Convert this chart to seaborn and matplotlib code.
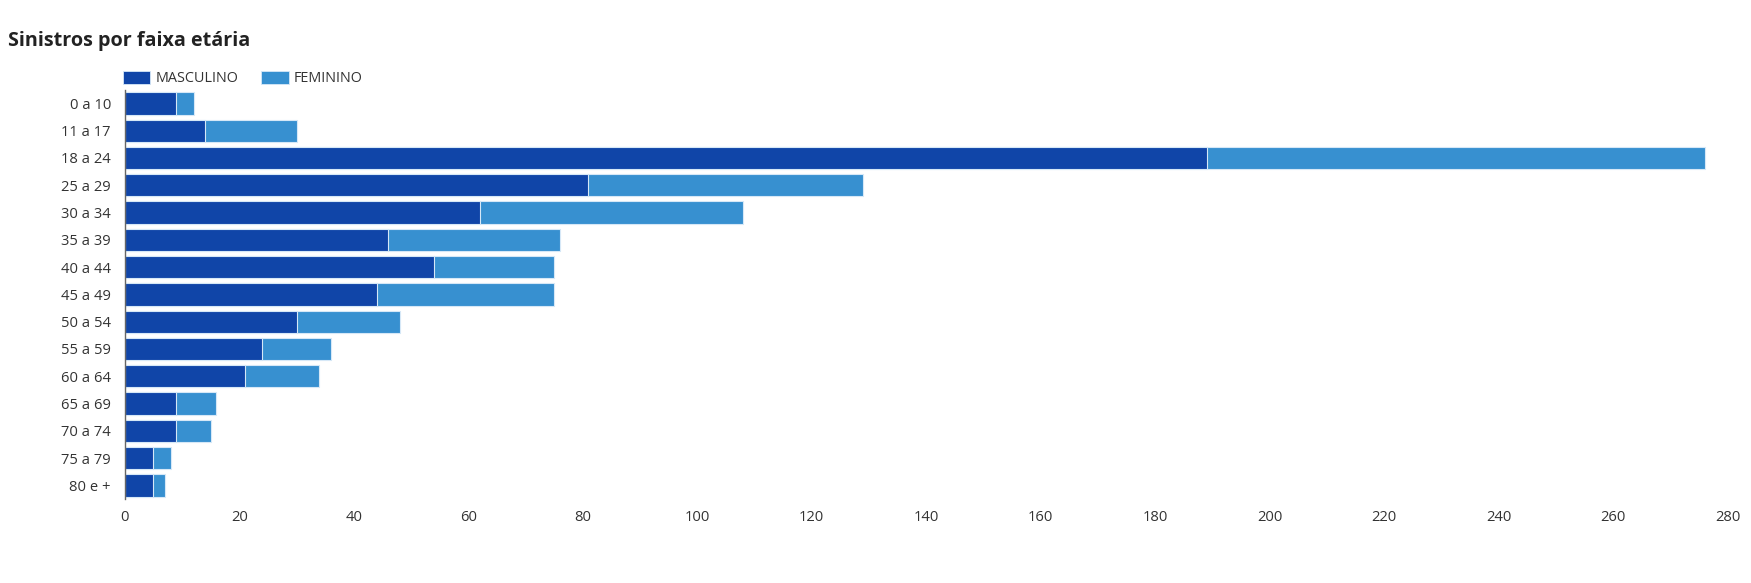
import pandas as pd
import matplotlib
matplotlib.use('Agg')
import matplotlib.pyplot as plt
import seaborn as sns
from matplotlib.patches import Patch

# =========================
# Data
# =========================
faixas = ['0 a 10', '11 a 17', '18 a 24', '25 a 29', '30 a 34', '35 a 39', '40 a 44',
          '45 a 49', '50 a 54', '55 a 59', '60 a 64', '65 a 69', '70 a 74', '75 a 79', '80 e +']
masculino = [9, 14, 189, 81, 62, 46, 54, 44, 30, 24, 21, 9, 9, 5, 5]
feminino = [3, 16, 87, 48, 46, 30, 21, 31, 18, 12, 13, 7, 6, 3, 2]
xticks = list(range(0, 281, 20))

cor_masc = '#1045a8'
cor_fem = '#3790d0'

df = pd.DataFrame({'faixa': faixas, 'masculino': masculino, 'feminino': feminino})
df['total'] = df['masculino'] + df['feminino']

# =========================
# Plot
# =========================
sns.set_style('white')
plt.rcParams['font.family'] = ['Open Sans', 'DejaVu Sans']

fig = plt.figure(figsize=(17.51, 5.83), dpi=100)
ax = fig.add_axes([0.0713, 0.144, 0.9153, 0.702])

sns.barplot(data=df, x='total', y='faixa', orient='h', color=cor_fem, width=0.82,
            edgecolor='#d6e8f7', linewidth=0.8, saturation=1, ax=ax)
sns.barplot(data=df, x='masculino', y='faixa', orient='h', color=cor_masc, width=0.82,
            edgecolor='#d6e8f7', linewidth=0.8, saturation=1, ax=ax)

ax.set_xlim(0, 280)
ax.set_xticks(xticks)
ax.set_xlabel('')
ax.set_ylabel('')
ax.tick_params(axis='both', length=0, labelsize=10.6, colors='#333333')
ax.tick_params(axis='x', pad=8)
ax.tick_params(axis='y', pad=10)

for s in ['top', 'right', 'bottom']:
    ax.spines[s].set_visible(False)
ax.spines['left'].set_color('#666666')
ax.spines['left'].set_linewidth(1)

fig.text(0.0046, 0.929, 'Sinistros por faixa etária', fontsize=14.2, fontweight='bold',
         color='#222222', va='center', ha='left')

handles = [Patch(facecolor=cor_masc, edgecolor='#d6e8f7', linewidth=0.6, label='MASCULINO'),
           Patch(facecolor=cor_fem, edgecolor='#d6e8f7', linewidth=0.6, label='FEMININO')]
fig.legend(handles=handles, loc='center left', bbox_to_anchor=(0.0627, 0.865), ncol=2,
           frameon=False, fontsize=10.4, handlelength=1.9, handleheight=1.0,
           handletextpad=0.35, columnspacing=1.6, labelcolor='#333333')

plt.savefig('out.png', dpi=100)
